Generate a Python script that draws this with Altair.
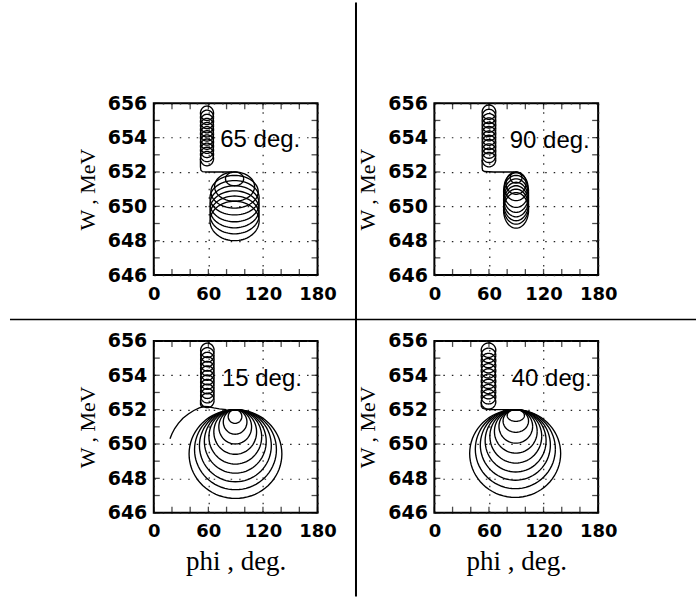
import altair as alt
import numpy as np
import pandas as pd

# ---------------- values ----------------
X_TICKS = [0, 60, 120, 180]
Y_TICKS = [646, 648, 650, 652, 654, 656]
X_MINOR = [0, 20, 40, 60, 80, 100, 120, 140, 160, 180]
Y_MINOR = [646, 647, 648, 649, 650, 651, 652, 653, 654, 655, 656]

LABELS = ["65 deg.", "90 deg.", "15 deg.", "40 deg."]

# --- 65 deg. panel ---
col65_w = [655.42, 655.18, 654.94, 654.70, 654.46, 654.22, 653.98, 653.74, 653.50, 653.26, 653.02, 652.78]
col65_phi, col65_rphi, col65_rw = 58.5, 7.2, 0.42
link65_phi = [51.3, 51.3, 51.8, 53.5, 60, 75, 86]
link65_w = [652.75, 652.3, 652.1, 652.02, 652.0, 652.0, 652.0]
ring65_phi = [88.8, 88.8, 88.8, 88.8, 88.8, 88.8, 88.8, 88.8]
ring65_rphi = [10, 22, 26, 27, 27, 27, 27, 27]
ring65_top = [652.0, 652.0, 651.8, 651.5, 651.2, 650.9, 650.6, 650.3]
ring65_bot = [651.2, 650.3, 649.9, 649.5, 649.1, 648.75, 648.4, 648.0]

# --- 90 deg. panel ---
col90_w = [655.48, 655.23, 654.98, 654.73, 654.48, 654.23, 653.97, 653.72, 653.47, 653.22, 652.97, 652.72]
col90_phi, col90_rphi, col90_rw = 60.0, 7.5, 0.42
link90_phi = [52.5, 52.5, 53, 55, 65, 80, 88]
link90_w = [652.7, 652.25, 652.1, 652.03, 652.0, 652.0, 652.0]
ring90_phi = [89.8, 89.8, 89.8, 89.8, 89.8, 89.8, 89.8, 89.8, 89.8]
ring90_rphi = [6.5, 11, 13, 13.7, 13.7, 13.7, 13.7, 13.7, 13.7]
ring90_top = [652.0, 652.0, 651.95, 651.8, 651.6, 651.4, 651.2, 651.0, 650.8]
ring90_bot = [651.35, 650.7, 650.33, 649.94, 649.65, 649.39, 649.16, 648.96, 648.73]

# --- 15 deg. panel ---
col15_w = [655.45, 655.19, 654.92, 654.66, 654.39, 654.13, 653.86, 653.60, 653.34, 653.07, 652.81, 652.54]
col15_phi, col15_rphi, col15_rw = 58.9, 7.4, 0.42
link15_phi = [51.4, 51.4, 52.5, 55]
link15_w = [652.55, 652.3, 652.18, 652.16]
tail15_phi = [17.8, 20, 23, 27, 32, 38, 44, 50, 55, 60, 66, 72, 80]
tail15_w = [650.3, 650.6, 650.9, 651.2, 651.5, 651.75, 651.95, 652.1, 652.18, 652.17, 652.1, 652.04, 652.0]
ring15_phi = [89.3, 89.4, 89.5, 89.5, 89.6, 89.6, 89.7, 89.8, 89.8]
ring15_rphi = [7.5, 13, 18, 23.5, 29, 34, 39.5, 45, 51]
ring15_top = [652.0, 652.0, 652.0, 652.0, 652.0, 652.0, 652.0, 652.0, 652.0]
ring15_bot = [651.2, 650.57, 650.0, 649.4, 648.83, 648.3, 647.8, 647.34, 646.83]

# --- 40 deg. panel ---
col40_w = [655.46, 655.16, 654.86, 654.56, 654.26, 653.96, 653.65, 653.35, 653.05, 652.75, 652.45]
col40_phi, col40_rphi, col40_rw = 59.5, 8.0, 0.42
link40_phi = [51.5, 51.6, 53, 56, 62, 72, 82]
link40_w = [652.45, 652.2, 652.08, 652.03, 652.01, 652.0, 652.0]
ring40_phi = [89.5, 89.5, 89.5, 89.5, 89.5, 89.3, 89.0, 89.0, 88.8]
ring40_rphi = [9.5, 14, 18.5, 23.5, 28.5, 33.5, 38.5, 44, 50]
ring40_top = [652.0, 652.0, 652.0, 652.0, 652.0, 652.0, 652.0, 652.0, 652.0]
ring40_bot = [651.32, 650.68, 650.05, 649.47, 648.89, 648.37, 647.89, 647.4, 646.89]

# ---------------- helpers ----------------
T = np.linspace(0, 2 * np.pi, 73)


def rings_frame(col_w, col_phi, col_rphi, col_rw, r_phi, r_rphi, r_top, r_bot, paths):
    rows = []
    cid = 0
    for w in col_w:
        for k, t in enumerate(T):
            rows.append((cid, k, col_phi + col_rphi * np.cos(t), w + col_rw * np.sin(t)))
        cid += 1
    for cx, rx, top, bot in zip(r_phi, r_rphi, r_top, r_bot):
        cy, ry = (top + bot) / 2, (top - bot) / 2
        for k, t in enumerate(T):
            rows.append((cid, k, cx + rx * np.cos(t), cy + ry * np.sin(t)))
        cid += 1
    for ph, ww in paths:
        for k, (p, w) in enumerate(zip(ph, ww)):
            rows.append((cid, k, p, w))
        cid += 1
    return pd.DataFrame(rows, columns=["id", "k", "phi", "W"])


XS = alt.Scale(domain=[0, 180], nice=False, zero=False)
YS = alt.Scale(domain=[646, 656], nice=False, zero=False)

LABEL_FONT = "DejaVu Sans"
SERIF = "Liberation Serif"
W_PX, H_PX = 164, 172


def panel(df, label, lx, ly, x_title, extra=None):
    xaxis = alt.Axis(values=X_TICKS, tickCount=20, format="d", grid=True, ticks=False,
                     domain=False,
                     labelFont=LABEL_FONT, labelFontWeight="bold", labelFontSize=18,
                     labelColor="black", labelPadding=10, labelFlush=False,
                     labelOverlap=False,
                     gridDash=[1.5, 7], gridColor="#222", gridWidth=1.2,
                     title=x_title, titleFont=SERIF, titleFontSize=27,
                     titleFontWeight="normal", titleColor="black", titlePadding=8)
    yaxis = alt.Axis(values=Y_TICKS, tickCount=20, format="d", grid=True, ticks=False,
                     domain=False,
                     labelFont=LABEL_FONT, labelFontWeight="bold", labelFontSize=19,
                     labelColor="black", labelPadding=7, labelOverlap=False,
                     gridDash=[1.5, 7], gridColor="#222", gridWidth=1.2,
                     title="W , MeV", titleFont=SERIF, titleFontSize=22,
                     titleFontWeight="normal", titleColor="black", titlePadding=8)
    lines = alt.Chart(df).mark_line(color="black", strokeWidth=1.35).encode(
        x=alt.X("phi:Q", scale=XS, axis=xaxis),
        y=alt.Y("W:Q", scale=YS, axis=yaxis),
        detail="id:N",
        order="k:Q",
    )
    xt = pd.DataFrame({"phi": X_MINOR})
    yt = pd.DataFrame({"W": Y_MINOR})
    tk = dict(color="black", size=6, thickness=1.3)
    tick_top = alt.Chart(xt).mark_tick(**tk).encode(
        x=alt.X("phi:Q", scale=XS, axis=xaxis), y=alt.value(3))
    tick_bot = alt.Chart(xt).mark_tick(**tk).encode(
        x=alt.X("phi:Q", scale=XS, axis=xaxis), y=alt.value(H_PX - 3))
    tick_l = alt.Chart(yt).mark_tick(**tk).encode(
        y=alt.Y("W:Q", scale=YS, axis=yaxis), x=alt.value(3))
    tick_r = alt.Chart(yt).mark_tick(**tk).encode(
        y=alt.Y("W:Q", scale=YS, axis=yaxis), x=alt.value(W_PX - 3))
    txt = alt.Chart(pd.DataFrame({"a": [0]})).mark_text(
        font="Liberation Sans", fontSize=24, color="black", align="center",
        baseline="alphabetic").encode(
        x=alt.datum(lx), y=alt.datum(ly), text=alt.value(label))
    layers = [lines, tick_top, tick_bot, tick_l, tick_r, txt]
    if extra:
        layers += extra
    return alt.layer(*layers).properties(width=W_PX, height=H_PX)


df65 = rings_frame(col65_w, col65_phi, col65_rphi, col65_rw, ring65_phi, ring65_rphi,
                   ring65_top, ring65_bot, [(link65_phi, link65_w)])
df90 = rings_frame(col90_w, col90_phi, col90_rphi, col90_rw, ring90_phi, ring90_rphi,
                   ring90_top, ring90_bot, [(link90_phi, link90_w)])
df15 = rings_frame(col15_w, col15_phi, col15_rphi, col15_rw, ring15_phi, ring15_rphi,
                   ring15_top, ring15_bot, [(link15_phi, link15_w), (tail15_phi, tail15_w)])
df40 = rings_frame(col40_w, col40_phi, col40_rphi, col40_rw, ring40_phi, ring40_rphi,
                   ring40_top, ring40_bot, [(link40_phi, link40_w)])

one = pd.DataFrame({"a": [0]})
vline = alt.Chart(one).mark_rule(color="black", strokeWidth=2).encode(
    x=alt.value(202.5), y=alt.value(-101), y2=alt.value(494))
hline = alt.Chart(one).mark_rule(color="black", strokeWidth=1.5).encode(
    x=alt.value(-144), x2=alt.value(543), y=alt.value(216.5))

p65 = panel(df65, LABELS[0], 117, 653.45, None, [vline, hline])
p90 = panel(df90, LABELS[1], 126.8, 653.4, None)
p15 = panel(df15, LABELS[2], 118.9, 653.4, "phi , deg.")
p40 = panel(df40, LABELS[3], 129, 653.38, "phi , deg.")

chart = alt.concat(p65, p90, p15, p40, columns=2,
                   spacing={"row": 66, "column": 117}, bounds="flush").properties(
    padding={"left": 8, "top": 0, "right": 0, "bottom": 0},
    background="white",
).configure_view(stroke="black", strokeWidth=2)

chart.save("out.html", embed_options={"renderer": "svg", "actions": False})
